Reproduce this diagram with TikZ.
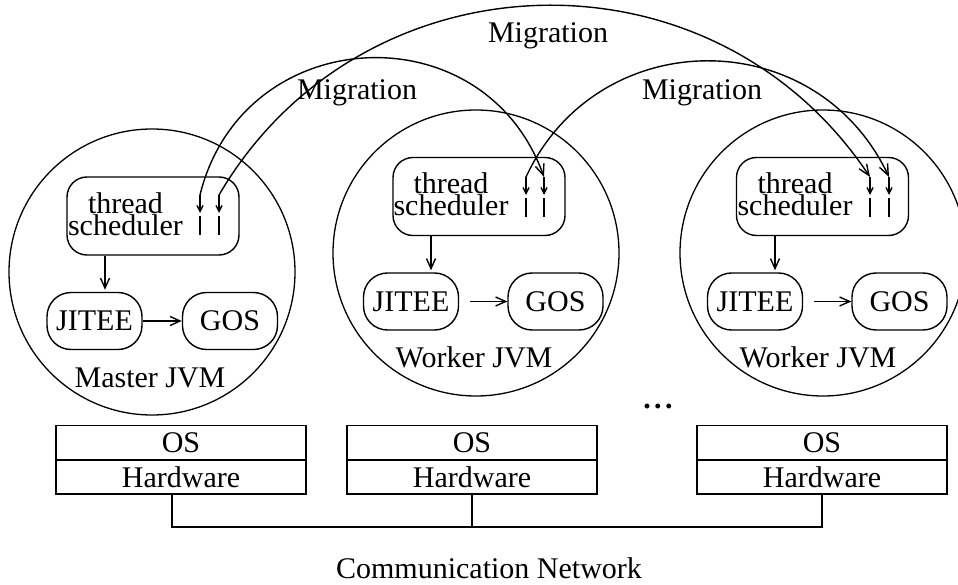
\documentclass[tikz,border=0pt]{standalone}
\usepackage{fontspec}
\setmainfont{Liberation Serif}
\usetikzlibrary{arrows.meta,calc}
\begin{document}
\begin{tikzpicture}[x=1pt,y=-1pt,line width=1.4pt,
  every node/.style={font=\fontsize{30}{22}\selectfont,inner sep=0pt},
  jvm/.style={draw,circle,minimum size=286pt,line width=1.3pt},
  sched/.style={draw,rounded corners=20pt,minimum width=172pt,minimum height=78pt},
  unit/.style={draw,rounded corners=24pt,minimum width=95pt,minimum height=57pt},
  layer/.style={draw,minimum width=250pt,minimum height=33.5pt},
  arr/.style={-{Straight Barb[length=10pt,width=9pt]}},
  mig/.style={-{Straight Barb[length=11pt,width=9pt]}},
  thr/.style={-{Straight Barb[length=6pt,width=6pt]}},
  txt/.style={anchor=base}]
\useasboundingbox (0,0) rectangle (958,585);

% the three virtual machines
\node[jvm] (jvm1) at (152,272) {};
\node[jvm] (jvm2) at (476,253) {};
\node[jvm] (jvm3) at (823,253) {};

% thread schedulers
\node[sched] (ts1) at (153,216) {};
\node[sched] (ts2) at (479,196.5) {};
\node[sched] (ts3) at (822.5,196.5) {};
\node[anchor=north,align=center] (ts1t) at (125.5,191.5) {thread\\scheduler};
\node[anchor=north,align=center] (ts2t) at (451,171.5) {thread\\scheduler};
\node[anchor=north,align=center] (ts3t) at (795,171.5) {thread\\scheduler};

% execution engines and object spaces
\node[unit] (ji1) at (94.5,321) {JITEE};
\node[unit] (go1) at (230,321) {GOS};
\node[unit] (ji2) at (411,301.5) {JITEE};
\node[unit] (go2) at (555.5,301.5) {GOS};
\node[unit] (ji3) at (755,301.5) {JITEE};
\node[unit] (go3) at (899.5,301.5) {GOS};

\coordinate (d1) at ($(ji1.north)+(10.5,-2)$);
\coordinate (d2) at ($(ji2.north)+(20,-2)$);
\coordinate (d3) at ($(ji3.north)+(20,-2)$);
\draw[arr] (ts1.south -| d1) -- (d1);
\draw[arr] (ts2.south -| d2) -- (d2);
\draw[arr] (ts3.south -| d3) -- (d3);
\draw[arr] (ji1.east) -- (go1.west);
\draw[arr] ($(ji2.east)+(11,0)$) -- (go2.west);
\draw[arr] ($(ji3.east)+(11,0)$) -- (go3.west);

\node[txt] (l1) at (150,387) {Master JVM};
\node[txt] (l2) at (474,367) {Worker JVM};
\node[txt] (l3) at (818,367) {Worker JVM};

% threads
\coordinate (t1a) at (200,195);
\coordinate (t1b) at (219,195);
\coordinate (t2a) at (526,177);
\coordinate (t2b) at (544,177);
\coordinate (t3a) at (870,177);
\coordinate (t3b) at (889,177);
\foreach \t in {t1a,t1b,t2a,t2b,t3a,t3b}{
  \draw[thr] (\t) -- ++(0,18);
  \draw ($(\t)+(0,21)$) -- ++(0,19);
}

% migration paths
\draw[mig] (t1a) .. controls (242.5,21.9) and (483.6,9.3) .. (t2b);
\draw[mig] (t1b) .. controls (361.3,-48.5) and (711.6,-60.4) .. (t3a);
\draw[mig] (t2a) .. controls (597.5,23) and (815.6,21.9) .. (t3b);
\node[txt] (m1) at (357,100) {Migration};
\node[txt] (m2) at (548,43) {Migration};
\node[txt] (m3) at (702,100) {Migration};

% operating system and hardware layers
\node[layer] (os1) at (181,442.5) {OS};
\node[layer,anchor=north] (hw1) at (os1.south) {Hardware};
\node[layer] (os2) at (472,442.5) {OS};
\node[layer,anchor=north] (hw2) at (os2.south) {Hardware};
\node[layer] (os3) at (822,442.5) {OS};
\node[layer,anchor=north] (hw3) at (os3.south) {Hardware};

\node[txt] (dots) at (658,408) {\bfseries .\kern3.5pt.\kern3.5pt.};

% network
\coordinate (n1) at (172,527);
\coordinate (n3) at (hw3.south |- n1);
\draw (hw1.south -| n1) -- (n1) -- (n3) -- (hw3.south);
\draw (hw2.south) -- (hw2.south |- n1);
\node[txt] (net) at (489,578) {Communication Network};
\end{tikzpicture}
\end{document}
